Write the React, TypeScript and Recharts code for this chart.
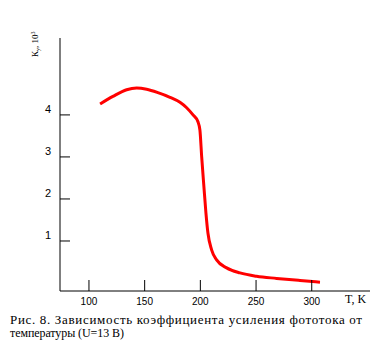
import { LineChart, Line, XAxis, YAxis } from 'recharts';

// temperature, K
const temps = [110, 121.5, 133.8, 142.8, 151.8, 161.9, 172.7, 181.7, 187.7, 193.4, 197.8, 199.6, 201.2, 203.2, 205, 206.8, 210.1, 214.6, 223.6, 235.6, 250.5, 268.5, 289.4, 307.4];
// gain coefficient, x10^3
const gain = [4.26, 4.44, 4.6, 4.64, 4.61, 4.53, 4.42, 4.3, 4.17, 4.0, 3.84, 3.64, 3.0, 2.29, 1.67, 1.19, 0.79, 0.55, 0.36, 0.24, 0.16, 0.11, 0.06, 0.02];

const xTicks = [100, 150, 200, 250, 300];
const yTicks = [1, 2, 3, 4];

const data = temps.map((t, i) => ({ t, k: gain[i] }));

const sans = '"Liberation Sans", Arial, sans-serif';
const serif = '"Liberation Serif", "Times New Roman", serif';

const XTick = ({ x, y, payload }: any) => (
  <g>
    <line x1={x} y1={y} x2={x} y2={y - 11} stroke="#000" strokeWidth={1} />
    <text x={x} y={y + 13.5} textAnchor="middle" fontSize={10} fontFamily={sans} fill="#000">
      {payload.value}
    </text>
  </g>
);

const YTick = ({ x, y, payload }: any) => (
  <g>
    <line x1={x} y1={y} x2={x + 10} y2={y} stroke="#000" strokeWidth={1} />
    <text x={x - 9} y={y - 2} textAnchor="end" fontSize={11} fontFamily={sans} fill="#000">
      {payload.value}
    </text>
  </g>
);

export default function App() {
  return (
    <div style={{ position: 'absolute', left: 0, top: 0, width: 373, height: 356, background: '#fff' }}>
      <LineChart width={373} height={356} data={data} margin={{ top: 38, right: 3, left: 59, bottom: 64 }}>
        <XAxis
          dataKey="t"
          type="number"
          domain={[74, 352.3]}
          ticks={xTicks}
          height={1}
          tickSize={0}
          tickMargin={0}
          tickLine={false}
          axisLine={{ stroke: '#000', strokeWidth: 1 }}
          tick={<XTick />}
          allowDataOverflow
        />
        <YAxis
          type="number"
          domain={[-0.19, 5.83]}
          ticks={yTicks}
          width={1}
          tickSize={0}
          tickMargin={0}
          tickLine={false}
          axisLine={{ stroke: '#000', strokeWidth: 1 }}
          tick={<YTick />}
          allowDataOverflow
        />
        <Line
          dataKey="k"
          type="monotone"
          stroke="#ff0000"
          strokeWidth={3}
          dot={false}
          isAnimationActive={false}
        />
      </LineChart>
      <svg width={373} height={356} style={{ position: 'absolute', left: 0, top: 0, pointerEvents: 'none' }}>
        <text transform="translate(38,57) rotate(-90)" fontSize={9} fontFamily={serif} fill="#000">
          К<tspan fontSize={6} dy={2}>у</tspan>
          <tspan dy={-2}>, 10</tspan>
          <tspan fontSize={6} dy={-3}>3</tspan>
        </text>
        <text x={345} y={303} fontSize={12} fontFamily={serif} fill="#000">T, K</text>
        <text x={10} y={323.5} fontSize={13} fontFamily={serif} fill="#000" textLength={352} lengthAdjust="spacing">
          Рис. 8. Зависимость коэффициента усиления фототока от
        </text>
        <text x={10} y={337} fontSize={12} fontFamily={serif} fill="#000" textLength={114} lengthAdjust="spacing">
          температуры (U=13 В)
        </text>
      </svg>
    </div>
  );
}
